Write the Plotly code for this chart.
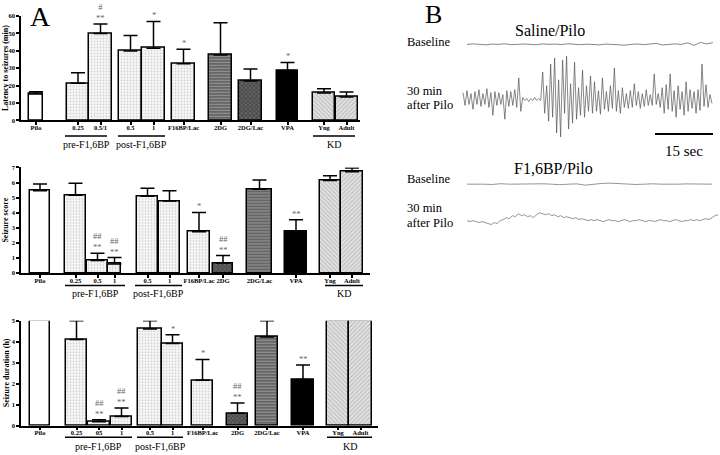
import plotly.graph_objects as go
import numpy as np

# ---------------- DATA ----------------
lat_labels = ["Pilo", "0.25", "0.5/1", "0.5", "1", "F16BP/Lac", "2DG", "2DG/Lac", "VPA", "Yng", "Adult"]
lat_mean = [15.2, 21.3, 49.8, 39.9, 41.4, 32.5, 37.6, 22.6, 28.6, 15.8, 13.5]
lat_err = [1.3, 6.0, 5.5, 8.8, 15.4, 8.3, 18.4, 6.9, 4.7, 2.4, 2.9]
lat_sig = ["", "", "#<br>**", "", "*", "*", "", "", "*", "", ""]

score_labels = ["Pilo", "0.25", "0.5", "1", "0.5", "1", "F16BP/Lac", "2DG", "2DG/Lac", "VPA", "Yng", "Adult"]
score_mean = [5.45, 5.15, 0.83, 0.61, 5.1, 4.78, 2.74, 0.67, 5.55, 2.78, 6.13, 6.72]
score_err = [0.45, 0.8, 0.48, 0.42, 0.52, 0.68, 1.28, 0.49, 0.62, 0.75, 0.32, 0.25]
score_sig = ["", "", "##<br>**", "##<br>**", "", "", "*", "##<br>**", "", "**", "", ""]

dur_labels = ["Pilo", "0.25", "05", "1", "0.5", "1", "F16BP/Lac", "2DG", "2DG/Lac", "VPA", "Yng", "Adult"]
dur_mean = [5.0, 4.11, 0.19, 0.44, 4.61, 3.92, 2.16, 0.59, 4.22, 2.2, 5.0, 5.0]
dur_err = [0.0, 0.89, 0.09, 0.4, 0.39, 0.41, 1.0, 0.49, 0.78, 0.69, 0.0, 0.0]
dur_sig = ["", "", "##<br>**", "##<br>**", "", "*", "*", "##<br>**", "", "**", "", ""]

# EEG traces (deflection, arbitrary units ~ px, positive = up)
saline_base = [0, 0.5, 0, -0.5, 0.3, 0, 0.6, -0.3, 0, 0.4, 0, -0.4, 0.5, 0, 0.3, -0.2, 0.6, 0, -0.3, 0.2,
               0, -0.5, 0.3, 0, 0.2, -0.8, 0, 0.4, -0.3, 0, 1, -0.6, 0, 0.5, 0, 1.5, -1, 2, 0.5, 1.8]
saline_30 = [7, -6, 9, -5, 6, -10, 8, -5, 10, -7, 6, -5, 11, -8, 7, -16, 8, -6, 7, -5, 5, -20, 9, -7, 8, -6, 10, -8,
             22, -12,
             2, -1, 1, -2, 1, -1, 2, -1, 1, -1,
             28, -14,
             14, -22, 36, -18, 42, -34, 20, -38, 40, -14, 44, -30, 16, -24, 38, -20, 12, -16, 30, -18, 14, -12, 24, -14,
             18, -12, 9, -15, 22, -10, 8, -12, 14, -9,
             32, -12, 9, -14, 12, -8, 6, -9,
             9, -8, 16, -6, 8, -9, 6, -7, 10, -6, 5, -6, 26, -5, 6, -8,
             12, -14, 15, -10, 26, -12, 9, -18, 14, -10, 8, -16, 18, -12, 10, -9, 8, -14, 10, -11, 36, -7, 15, -8, 5, -4]
f16_base = [0, 0.3, 0, -0.3, 0.5, 0, 0.2, -0.2, 0, 0.4, 0, -0.5, 0, 0.3, -1, 0, 0.8, 1, 0.5, 0,
            -0.3, 0, 0.4, 0, -0.2, 0, 0.3, 0, -0.2, 0]
f16_30 = [0, -1, 0, -1, -2, -1, -2, -3, -4, -2, -3, 0, 1, 3, 2, 5, 4, 7, 5, 6, 4, 5, 3, 6, 8, 7, 6, 7, 5, 6, 4, 5, 3, 4, 3, 2,
          3, 1, 2, 1, 0, 1, 0, 1, 0, -1, 0, 1, 0, 0, -1, 0, 1, 0, -1, 0, 0, 1, 0, -1, 0, 0, -1, 0, 1, 0, 0, -1, 0, 1,
          0, -1, 0, 0, 1, 0, 1, 0, 1, 2, 1, 3, 5, 6]

# ---------------- LAYOUT CONSTANTS ----------------
W, H = 720, 455
SERIF = "Liberation Serif"

lat_pos = [36, 78, 100.5, 130.5, 153.5, 183.5, 220.5, 250.5, 287.5, 324, 346.5]
lat_w = [14, 22, 23, 23, 23, 23, 23, 23, 21, 22, 22]
lat_sty = ["open", "dot", "dot", "dot", "dot", "dot", "hline", "check", "solid", "kd1", "kd2"]

score_pos = [40, 75.5, 97.5, 114.5, 147.5, 169.5, 199, 223, 259.5, 296, 330, 352]
score_w = [20, 21, 21, 13, 21, 21, 22, 20, 25, 22, 21, 22]
score_sty = ["open", "dot", "dot", "dot", "dot", "dot", "dot", "check", "hline", "solid", "kd1", "kd2"]

dur_pos = [40, 76.5, 99, 121.5, 150, 172.5, 202.5, 237.5, 267, 303, 338, 360.5]
dur_w = [20, 21, 22, 21, 24, 21, 21, 21, 22, 22, 22, 23]
dur_sty = ["open", "dot", "dot", "dot", "dot", "dot", "dot", "check", "hline", "solid", "kd1", "kd2"]

STY = {
    "open": dict(color="white", shape="", fg="white", sol=0.3),
    "dot": dict(color="#f6f6f6", shape=".", fg="#9e9e9e", sol=0.25),
    "hline": dict(color="#666666", shape="-", fg="#c8c8c8", sol=0.35),
    "check": dict(color="#4a4a4a", shape="x", fg="#a8a8a8", sol=0.35),
    "solid": dict(color="black", shape="", fg="black", sol=0.3),
    "kd1": dict(color="#e2e2e2", shape="\\", fg="#8a8a8a", sol=0.3),
    "kd2": dict(color="#e2e2e2", shape="/", fg="#8a8a8a", sol=0.3),
}

def py(p):
    return 1 - p / H

fig = go.Figure()
annotations = []
shapes = []

panels = [
    (lat_labels, lat_mean, lat_err, lat_sig, lat_pos, lat_w, lat_sty, "", 118.3, 12.0, 60, 10, 360,
     "Latency to seizures (min)", 65, 134, 143,
     [("pre-F1,6BP", 65, 107), ("post-F1,6BP", 118, 165), ("KD", 313, 355)]),
    (score_labels, score_mean, score_err, score_sig, score_pos, score_w, score_sty, "2", 273.3, 166.0, 7, 1, 370,
     "Seizure score", 220, 286, 294,
     [("pre-F1,6BP", 65, 125), ("post-F1,6BP", 135, 182), ("KD", 325, 363)]),
    (dur_labels, dur_mean, dur_err, dur_sig, dur_pos, dur_w, dur_sty, "3", 428.3, 321.7, 5, 1, 378,
     "Seizure duration (h)", 375, 440, 449,
     [("pre-F1,6BP", 65, 132), ("post-F1,6BP", 137, 183), ("KD", 327, 372)]),
]

axis_common = dict(showline=True, linecolor="black", linewidth=1.5, ticks="outside", ticklen=3,
                   tickwidth=1.5, tickcolor="black", showgrid=False, zeroline=False)

for (labels, mean, err, sig, pos, wid, sty, sfx, y0px, ytpx, ymax, dtick, xend,
     ytitle, ytitle_y, line_y, grp_y, groups) in panels:
    xa = "x" + sfx
    ya = "y" + sfx
    for xi, m, e, w, s in zip(pos, mean, err, wid, sty):
        st = STY[s]
        fig.add_trace(go.Bar(
            x=[xi], y=[m], width=[w], xaxis=xa, yaxis=ya,
            marker=dict(
                color=st["color"],
                line=dict(color="black", width=1.5),
                pattern=dict(shape=st["shape"], fgcolor=st["fg"], size=3, solidity=st["sol"],
                             fillmode="overlay"),
            ),
            error_y=dict(type="data", symmetric=False, array=[e], arrayminus=[0],
                         color="black", thickness=1.5, width=7, visible=e > 0),
            showlegend=False, hoverinfo="skip",
        ))
    layout_x = dict(axis_common, domain=[21 / W, xend / W], range=[21, xend], anchor=ya,
                    tickvals=pos, ticktext=labels, tickangle=0, ticklabelstandoff=-3,
                    tickfont=dict(family=SERIF, size=6.5, color="black", weight="bold"))
    layout_y = dict(axis_common, domain=[py(y0px), py(ytpx)], range=[0, ymax], anchor=xa,
                    dtick=dtick, tick0=0,
                    tickfont=dict(family=SERIF, size=6.5, color="black", weight="bold"))
    fig.update_layout(**{("xaxis" + sfx): layout_x, ("yaxis" + sfx): layout_y})

    for xi, m, e, s in zip(pos, mean, err, sig):
        if s:
            annotations.append(dict(x=xi, y=m + e, xref=xa, yref=ya, text=s, showarrow=False,
                                    xanchor="center", yanchor="bottom", yshift=-1,
                                    font=dict(family=SERIF, size=8.5, color="#666666"),
                                    align="center"))
    annotations.append(dict(x=6 / W, y=py(ytitle_y), xref="paper", yref="paper", text=ytitle,
                            textangle=-90, showarrow=False, xanchor="center", yanchor="middle",
                            font=dict(family=SERIF, size=8, color="black", weight="bold")))
    for name, a, b in groups:
        shapes.append(dict(type="line", xref=xa, yref="paper", x0=a, x1=b, y0=py(line_y), y1=py(line_y),
                           line=dict(color="black", width=1.5)))
        annotations.append(dict(x=(a + b) / 2, y=py(grp_y), xref=xa, yref="paper", text=name,
                                showarrow=False, xanchor="center", yanchor="middle",
                                font=dict(family=SERIF, size=10, color="black")))

annotations.append(dict(x=40 / W, y=py(13), xref="paper", yref="paper", text="A", showarrow=False,
                        xanchor="center", yanchor="middle",
                        font=dict(family=SERIF, size=28, color="black")))

# ---------------- PANEL B ----------------
def eeg(vals, x0, x1, yc, width=0.7, color="#555"):
    xs = np.linspace(x0, x1, len(vals))
    ys = [yc - v for v in vals]
    fig.add_trace(go.Scatter(x=xs, y=ys, mode="lines", xaxis="x4", yaxis="y4",
                             line=dict(color=color, width=width), showlegend=False, hoverinfo="skip"))

eeg(saline_base, 467, 713, 41, 0.9, "#777")
eeg(saline_30, 463, 712, 97, 0.7, "#555")
eeg(f16_base, 467, 712, 183, 0.9, "#888")
eeg(f16_30, 467, 718, 220, 0.9, "#888")

fig.update_layout(
    xaxis4=dict(domain=[0.5, 1], range=[360, 720], visible=False, anchor="y4"),
    yaxis4=dict(domain=[0, 1], range=[455, 0], visible=False, anchor="x4"),
)
shapes.append(dict(type="line", xref="x4", yref="y4", x0=655, x1=713, y0=132, y1=132,
                   line=dict(color="black", width=2)))

def btext(x, y, t, size, anchor="left"):
    annotations.append(dict(x=x, y=y, xref="x4", yref="y4", text=t, showarrow=False, xanchor=anchor,
                            yanchor="middle", font=dict(family=SERIF, size=size, color="black")))

btext(433, 11, "B", 26, "center")
btext(550, 27, "Saline/Pilo", 16, "center")
btext(405, 39, "Baseline", 12.5)
btext(405, 88, "30 min", 12.5)
btext(405, 103, "after Pilo", 12.5)
btext(684, 149, "15 sec", 15, "center")
btext(553, 167, "F1,6BP/Pilo", 16, "center")
btext(405, 178, "Baseline", 12.5)
btext(405, 207, "30 min", 12.5)
btext(405, 222, "after Pilo", 12.5)

fig.update_layout(
    width=W, height=H, margin=dict(l=0, r=0, t=0, b=0),
    paper_bgcolor="white", plot_bgcolor="rgba(0,0,0,0)",
    annotations=annotations, shapes=shapes, bargap=0, barmode="overlay",
)

fig.write_html("out.html", config={"displayModeBar": False},
               post_script="document.body.style.margin='0px';")
